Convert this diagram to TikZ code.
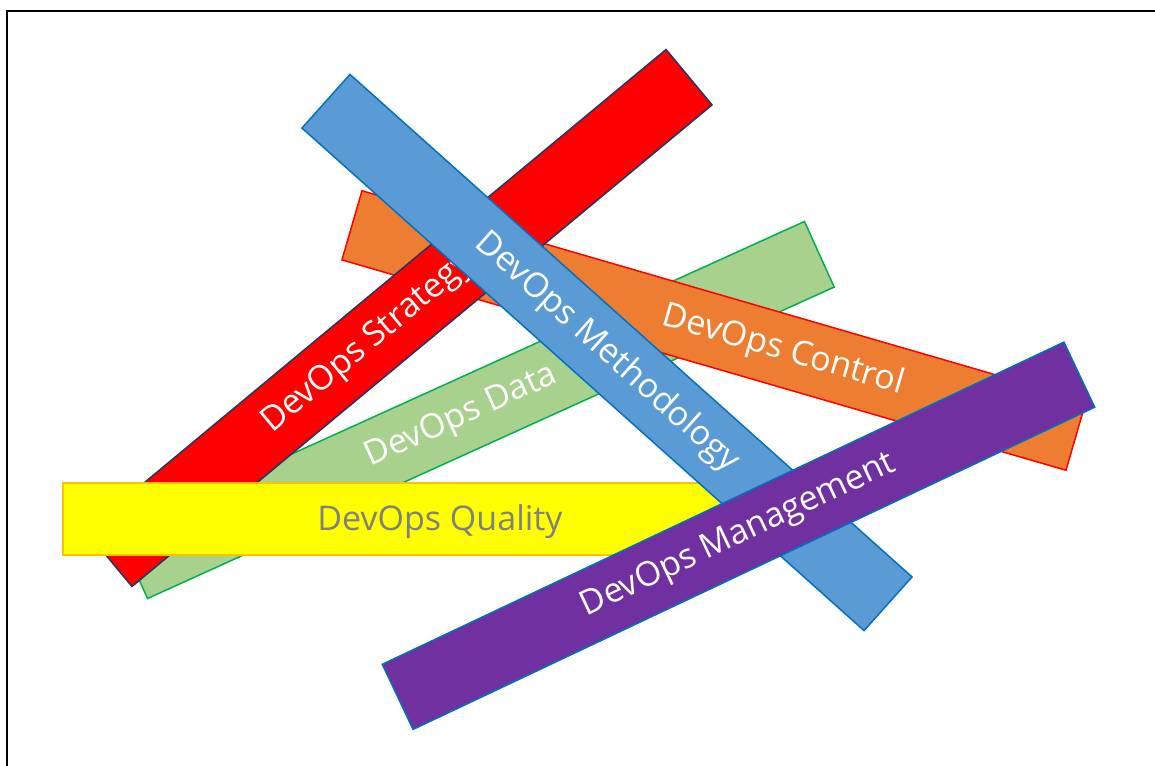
\documentclass[tikz,border=0pt]{standalone}
\usepackage{fontspec}
\setmainfont{Open Sans}
\usetikzlibrary{calc}
\definecolor{fGreen}{HTML}{A9D18E}
\definecolor{sGreen}{HTML}{00B050}
\definecolor{fOrange}{HTML}{ED7D31}
\definecolor{sOrange}{HTML}{FF0000}
\definecolor{fRed}{HTML}{FF0000}
\definecolor{sRed}{HTML}{1F3864}
\definecolor{fYellow}{HTML}{FFFF00}
\definecolor{sYellow}{HTML}{FFC000}
\definecolor{fBlue}{HTML}{5B9BD5}
\definecolor{sBlue}{HTML}{0070C0}
\definecolor{fPurple}{HTML}{7030A0}
\definecolor{sPurple}{HTML}{0070C0}
\definecolor{qGray}{HTML}{808080}
\begin{document}
\begin{tikzpicture}[x=1pt,y=-1pt,
  bar/.style={rectangle, minimum width=754pt, minimum height=72pt,
    inner sep=0pt, outer sep=0pt, line width=1.5pt},
  lbl/.style={font=\fontsize{34}{40}\selectfont, text=white, inner sep=0pt}]
\useasboundingbox (0,0) rectangle (1155,765);
\begin{scope}
  \clip (0,0) rectangle (1155,765);
  \draw[line width=2.2pt] (7.3,10.7) rectangle (1200,800);
\end{scope}
% green: DevOps Data
\node[bar, fill=fGreen, draw=sGreen, rotate=24.4] (data) at (476,410) {};
\node[lbl, rotate=24.4] (dataT) at ($(data.center)!-16pt!(data.east)$) {DevOps Data};
% orange: DevOps Control
\node[bar, fill=fOrange, draw=sOrange, rotate=-16.2] (control) at (714,330.5) {};
\node[lbl, rotate=-16.2] (controlT) at ($(control.center)!72pt!(control.east)$) {DevOps Control};
% red: DevOps Strategy
\node[bar, fill=fRed, draw=sRed, rotate=39.7] (strategy) at (399,318) {};
\node[lbl, rotate=39.7] (strategyT) at ($(strategy.center)!-40pt!(strategy.east)$) {DevOps Strategy};
% yellow: DevOps Quality
\node[bar, fill=fYellow, draw=sYellow] (quality) at (440,519) {};
\node[lbl, text=qGray] (qualityT) at ($(quality.center)+(0,3)$) {DevOps Quality};
% blue: DevOps Methodology
\node[bar, fill=fBlue, draw=sBlue, rotate=-41.8] (method) at (607,352.5) {};
\node[lbl, rotate=-41.8] (methodT) at (method.center) {DevOps Methodology};
% purple: DevOps Management
\node[bar, fill=fPurple, draw=sPurple, rotate=25.3] (manage) at (738.5,535.75) {};
\node[lbl, rotate=25.3] (manageT) at (manage.center) {DevOps Management};
\end{tikzpicture}
\end{document}
